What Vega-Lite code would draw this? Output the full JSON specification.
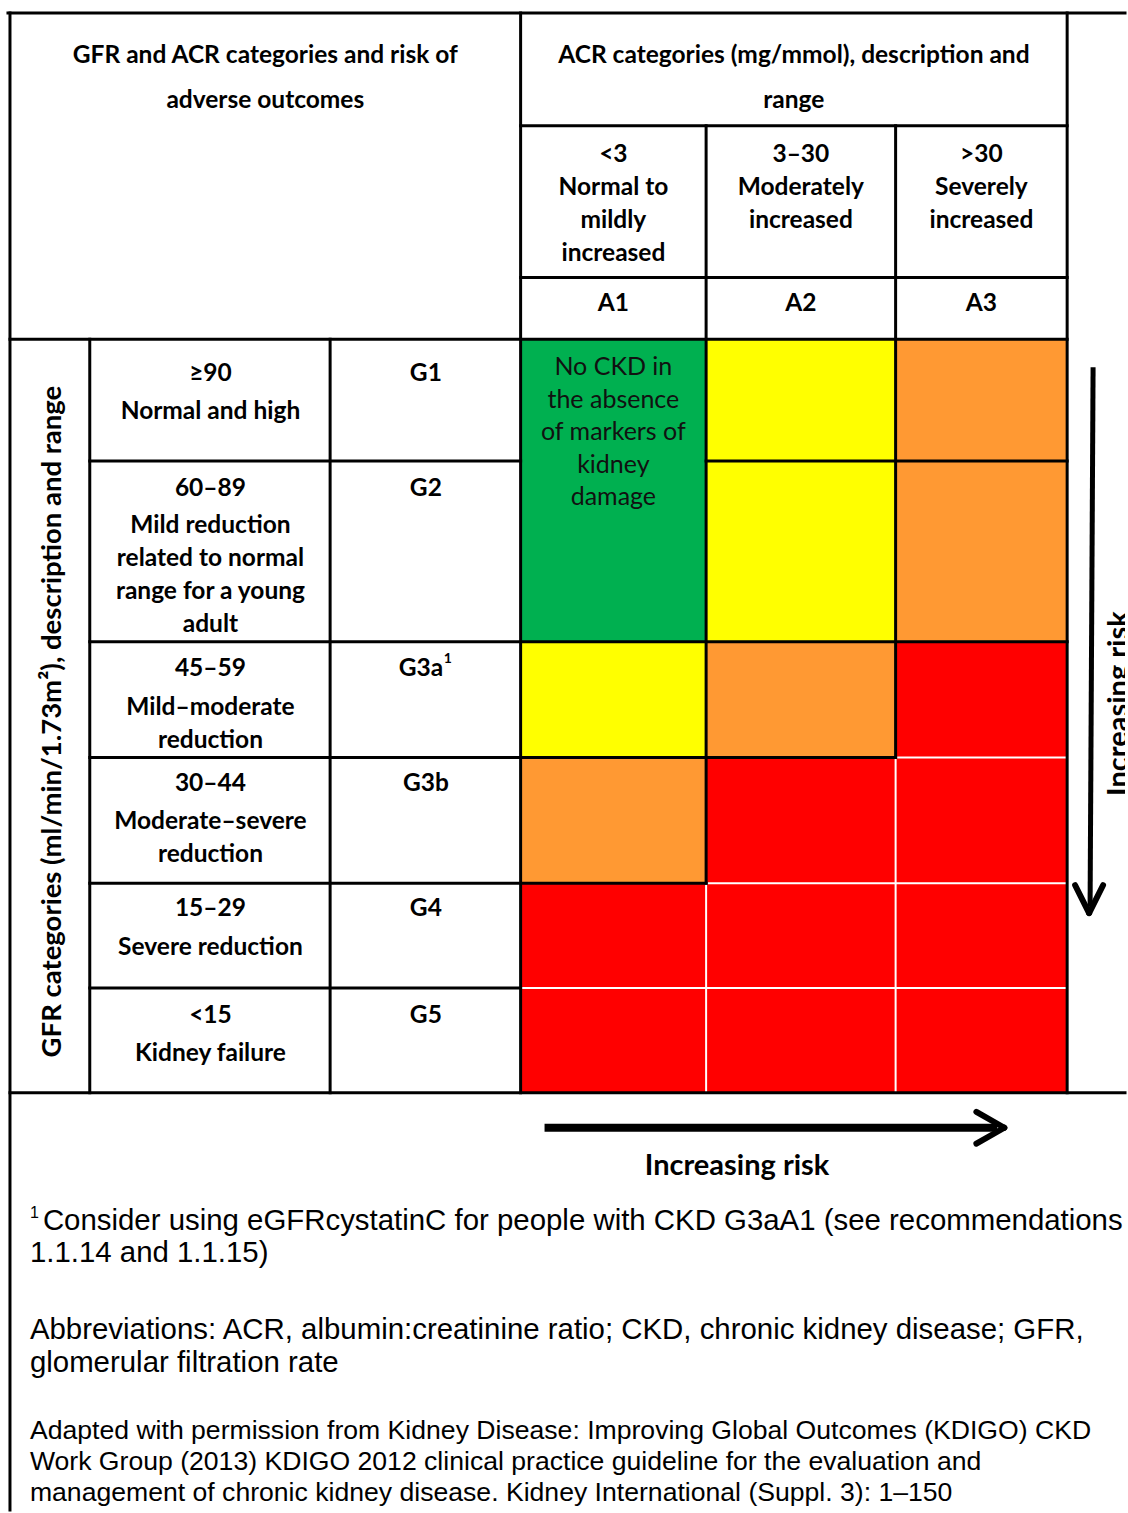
{
  "$schema": "https://vega.github.io/schema/vega-lite/v6.json",
  "width": 1128,
  "height": 1513,
  "autosize": {"type": "fit", "contains": "padding"},
  "padding": 0,
  "background": "white",
  "config": {"view": {"stroke": null}, "text": {"font": "Lato"}},
  "datasets": {
    "acrCols": [
      {"acr": "A1", "x": 522, "x2": 708},
      {"acr": "A2", "x": 708, "x2": 898},
      {"acr": "A3", "x": 898, "x2": 1070}
    ],
    "gfrRows": [
      {"gfr": "G1", "y": 340, "y2": 462},
      {"gfr": "G2", "y": 462, "y2": 643},
      {"gfr": "G3a", "y": 643, "y2": 759},
      {"gfr": "G3b", "y": 759, "y2": 885},
      {"gfr": "G4", "y": 885, "y2": 990},
      {"gfr": "G5", "y": 990, "y2": 1095}
    ],
    "cells": [
      {"gfr": "G1", "acr": "A1", "risk": "Low"},
      {"gfr": "G1", "acr": "A2", "risk": "Moderate"},
      {"gfr": "G1", "acr": "A3", "risk": "High"},
      {"gfr": "G2", "acr": "A1", "risk": "Low"},
      {"gfr": "G2", "acr": "A2", "risk": "Moderate"},
      {"gfr": "G2", "acr": "A3", "risk": "High"},
      {"gfr": "G3a", "acr": "A1", "risk": "Moderate"},
      {"gfr": "G3a", "acr": "A2", "risk": "High"},
      {"gfr": "G3a", "acr": "A3", "risk": "Very high"},
      {"gfr": "G3b", "acr": "A1", "risk": "High"},
      {"gfr": "G3b", "acr": "A2", "risk": "Very high"},
      {"gfr": "G3b", "acr": "A3", "risk": "Very high"},
      {"gfr": "G4", "acr": "A1", "risk": "Very high"},
      {"gfr": "G4", "acr": "A2", "risk": "Very high"},
      {"gfr": "G4", "acr": "A3", "risk": "Very high"},
      {"gfr": "G5", "acr": "A1", "risk": "Very high"},
      {"gfr": "G5", "acr": "A2", "risk": "Very high"},
      {"gfr": "G5", "acr": "A3", "risk": "Very high"}
    ],
    "whiteLines": [
      {"x": 898, "y": 759, "x2": 1070, "y2": 759},
      {"x": 708, "y": 885, "x2": 1070, "y2": 885},
      {"x": 522, "y": 990, "x2": 1070, "y2": 990},
      {"x": 898, "y": 759, "x2": 898, "y2": 1095},
      {"x": 708, "y": 885, "x2": 708, "y2": 1095}
    ],
    "blackLines": [
      {"x": 8, "y": 13, "x2": 1128, "y2": 13},
      {"x": 10, "y": 13, "x2": 10, "y2": 1513},
      {"x": 522, "y": 13, "x2": 522, "y2": 1095},
      {"x": 1070, "y": 13, "x2": 1070, "y2": 1095},
      {"x": 522, "y": 126, "x2": 1070, "y2": 126},
      {"x": 522, "y": 278, "x2": 1070, "y2": 278},
      {"x": 10, "y": 340, "x2": 1070, "y2": 340},
      {"x": 708, "y": 126, "x2": 708, "y2": 885},
      {"x": 898, "y": 126, "x2": 898, "y2": 759},
      {"x": 90, "y": 340, "x2": 90, "y2": 1095},
      {"x": 331, "y": 340, "x2": 331, "y2": 1095},
      {"x": 90, "y": 462, "x2": 522, "y2": 462},
      {"x": 708, "y": 462, "x2": 1070, "y2": 462},
      {"x": 90, "y": 643, "x2": 1070, "y2": 643},
      {"x": 90, "y": 759, "x2": 898, "y2": 759},
      {"x": 90, "y": 885, "x2": 708, "y2": 885},
      {"x": 90, "y": 990, "x2": 522, "y2": 990},
      {"x": 10, "y": 1095, "x2": 1128, "y2": 1095}
    ],
    "hShaft": [{"x": 546, "y": 1130, "x2": 1000, "y2": 1130}],
    "vShaft": [{"x": 1096, "y": 368, "x2": 1093, "y2": 908}],
    "arrowHeads": [
      {"x": 979, "y": 1114, "x2": 1007, "y2": 1130},
      {"x": 1007, "y": 1130, "x2": 979, "y2": 1146},
      {"x": 1078, "y": 887, "x2": 1092, "y2": 915},
      {"x": 1092, "y": 915, "x2": 1106, "y2": 887}
    ],
    "headerText": [
      {"label": ["GFR and ACR categories and risk of", "adverse outcomes"], "x": 266, "y": 63},
      {"label": ["ACR categories (mg/mmol), description and", "range"], "x": 796, "y": 63}
    ],
    "boldText": [
      {"label": ["<3", "Normal to", "mildly", "increased"], "x": 615, "y": 162},
      {"label": ["3–30", "Moderately", "increased"], "x": 803, "y": 162},
      {"label": [">30", "Severely", "increased"], "x": 984, "y": 162},
      {"label": "A1", "x": 615, "y": 312},
      {"label": "A2", "x": 803, "y": 312},
      {"label": "A3", "x": 984, "y": 312},
      {"label": "≥90", "x": 211, "y": 382},
      {"label": ["Normal and high"], "x": 211, "y": 420},
      {"label": "60–89", "x": 211, "y": 497},
      {"label": ["Mild reduction", "related to normal", "range for a young", "adult"], "x": 211, "y": 534},
      {"label": "45–59", "x": 211, "y": 677},
      {"label": ["Mild–moderate", "reduction"], "x": 211, "y": 716},
      {"label": "30–44", "x": 211, "y": 793},
      {"label": ["Moderate–severe", "reduction"], "x": 211, "y": 831},
      {"label": "15–29", "x": 211, "y": 918},
      {"label": ["Severe reduction"], "x": 211, "y": 957},
      {"label": "<15", "x": 211, "y": 1025},
      {"label": ["Kidney failure"], "x": 211, "y": 1063},
      {"label": "G1", "x": 427, "y": 382},
      {"label": "G2", "x": 427, "y": 497},
      {"label": "G3a", "x": 422, "y": 677},
      {"label": "G3b", "x": 427, "y": 793},
      {"label": "G4", "x": 427, "y": 918},
      {"label": "G5", "x": 427, "y": 1025}
    ],
    "supText": [{"label": "1", "x": 449, "y": 664}],
    "noteInCell": [
      {"label": ["No CKD in", "the absence", "of markers of", "kidney", "damage"], "x": 615, "y": 376}
    ],
    "gfrAxisTitle": [
      {"label": "GFR categories (ml/min/1.73m²), description and range", "x": 61, "y": 723}
    ],
    "riskLabelH": [{"label": "Increasing risk", "x": 739, "y": 1177}],
    "riskLabelV": [{"label": "Increasing risk", "x": 1131, "y": 705}],
    "footSup": [{"label": "1", "x": 30, "y": 1220}],
    "footnotes": [
      {"label": "Consider using eGFRcystatinC for people with CKD G3aA1 (see recommendations", "x": 43, "y": 1232},
      {"label": "1.1.14 and 1.1.15)", "x": 30, "y": 1265},
      {"label": ["Abbreviations: ACR, albumin:creatinine ratio; CKD, chronic kidney disease; GFR,", "glomerular filtration rate"], "x": 30, "y": 1342}
    ],
    "source": [
      {"label": ["Adapted with permission from Kidney Disease: Improving Global Outcomes (KDIGO) CKD", "Work Group (2013) KDIGO 2012 clinical practice guideline for the evaluation and", "management of chronic kidney disease. Kidney International (Suppl. 3): 1–150"], "x": 30, "y": 1442}
    ]
  },
  "encoding": {
    "x": {"field": "x", "type": "quantitative", "scale": {"domain": [0, 1128], "nice": false, "zero": false}, "axis": null},
    "y": {"field": "y", "type": "quantitative", "scale": {"domain": [0, 1513], "nice": false, "zero": false, "reverse": true}, "axis": null}
  },
  "layer": [
    {
      "data": {"name": "cells"},
      "transform": [
        {"lookup": "acr", "from": {"data": {"name": "acrCols"}, "key": "acr", "fields": ["x", "x2"]}},
        {"lookup": "gfr", "from": {"data": {"name": "gfrRows"}, "key": "gfr", "fields": ["y", "y2"]}}
      ],
      "mark": {"type": "rect"},
      "encoding": {
        "x2": {"field": "x2"},
        "y2": {"field": "y2"},
        "color": {
          "field": "risk",
          "type": "nominal",
          "scale": {"domain": ["Low", "Moderate", "High", "Very high"], "range": ["#00B050", "#FFFF00", "#FF9933", "#FF0000"]},
          "legend": null
        }
      }
    },
    {
      "data": {"name": "whiteLines"},
      "mark": {"type": "rule", "color": "white", "strokeWidth": 2},
      "encoding": {"x2": {"field": "x2"}, "y2": {"field": "y2"}}
    },
    {
      "data": {"name": "blackLines"},
      "mark": {"type": "rule", "color": "black", "strokeWidth": 3, "strokeCap": "square"},
      "encoding": {"x2": {"field": "x2"}, "y2": {"field": "y2"}}
    },
    {
      "data": {"name": "hShaft"},
      "mark": {"type": "rule", "color": "black", "strokeWidth": 8},
      "encoding": {"x2": {"field": "x2"}, "y2": {"field": "y2"}}
    },
    {
      "data": {"name": "vShaft"},
      "mark": {"type": "rule", "color": "black", "strokeWidth": 5},
      "encoding": {"x2": {"field": "x2"}, "y2": {"field": "y2"}}
    },
    {
      "data": {"name": "arrowHeads"},
      "mark": {"type": "rule", "color": "black", "strokeWidth": 6, "strokeCap": "round"},
      "encoding": {"x2": {"field": "x2"}, "y2": {"field": "y2"}}
    },
    {
      "data": {"name": "headerText"},
      "mark": {"type": "text", "font": "Lato", "fontWeight": "bold", "fontSize": 24.5, "lineHeight": 45, "align": "center", "baseline": "alphabetic", "color": "black"},
      "encoding": {"text": {"field": "label"}}
    },
    {
      "data": {"name": "boldText"},
      "mark": {"type": "text", "font": "Lato", "fontWeight": "bold", "fontSize": 24.5, "lineHeight": 33, "align": "center", "baseline": "alphabetic", "color": "black"},
      "encoding": {"text": {"field": "label"}}
    },
    {
      "data": {"name": "supText"},
      "mark": {"type": "text", "font": "Lato", "fontWeight": "bold", "fontSize": 14, "align": "center", "baseline": "alphabetic", "color": "black"},
      "encoding": {"text": {"field": "label"}}
    },
    {
      "data": {"name": "noteInCell"},
      "mark": {"type": "text", "font": "Lato", "fontSize": 25, "lineHeight": 32.5, "align": "center", "baseline": "alphabetic", "color": "#111111"},
      "encoding": {"text": {"field": "label"}}
    },
    {
      "data": {"name": "gfrAxisTitle"},
      "mark": {"type": "text", "font": "Lato", "fontWeight": "bold", "fontSize": 27.5, "angle": 270, "align": "center", "baseline": "alphabetic", "color": "black"},
      "encoding": {"text": {"field": "label"}}
    },
    {
      "data": {"name": "riskLabelH"},
      "mark": {"type": "text", "font": "Lato", "fontWeight": "bold", "fontSize": 29, "align": "center", "baseline": "alphabetic", "color": "black"},
      "encoding": {"text": {"field": "label"}}
    },
    {
      "data": {"name": "riskLabelV"},
      "mark": {"type": "text", "font": "Lato", "fontWeight": "bold", "fontSize": 29, "angle": 270, "align": "center", "baseline": "alphabetic", "color": "black", "clip": true},
      "encoding": {"text": {"field": "label"}}
    },
    {
      "data": {"name": "footSup"},
      "mark": {"type": "text", "font": "Liberation Sans", "fontSize": 16, "align": "left", "baseline": "alphabetic", "color": "black"},
      "encoding": {"text": {"field": "label"}}
    },
    {
      "data": {"name": "footnotes"},
      "mark": {"type": "text", "font": "Liberation Sans", "fontSize": 29.4, "lineHeight": 33, "align": "left", "baseline": "alphabetic", "color": "black"},
      "encoding": {"text": {"field": "label"}}
    },
    {
      "data": {"name": "source"},
      "mark": {"type": "text", "font": "Liberation Sans", "fontSize": 26.6, "lineHeight": 31, "align": "left", "baseline": "alphabetic", "color": "black"},
      "encoding": {"text": {"field": "label"}}
    }
  ]
}
